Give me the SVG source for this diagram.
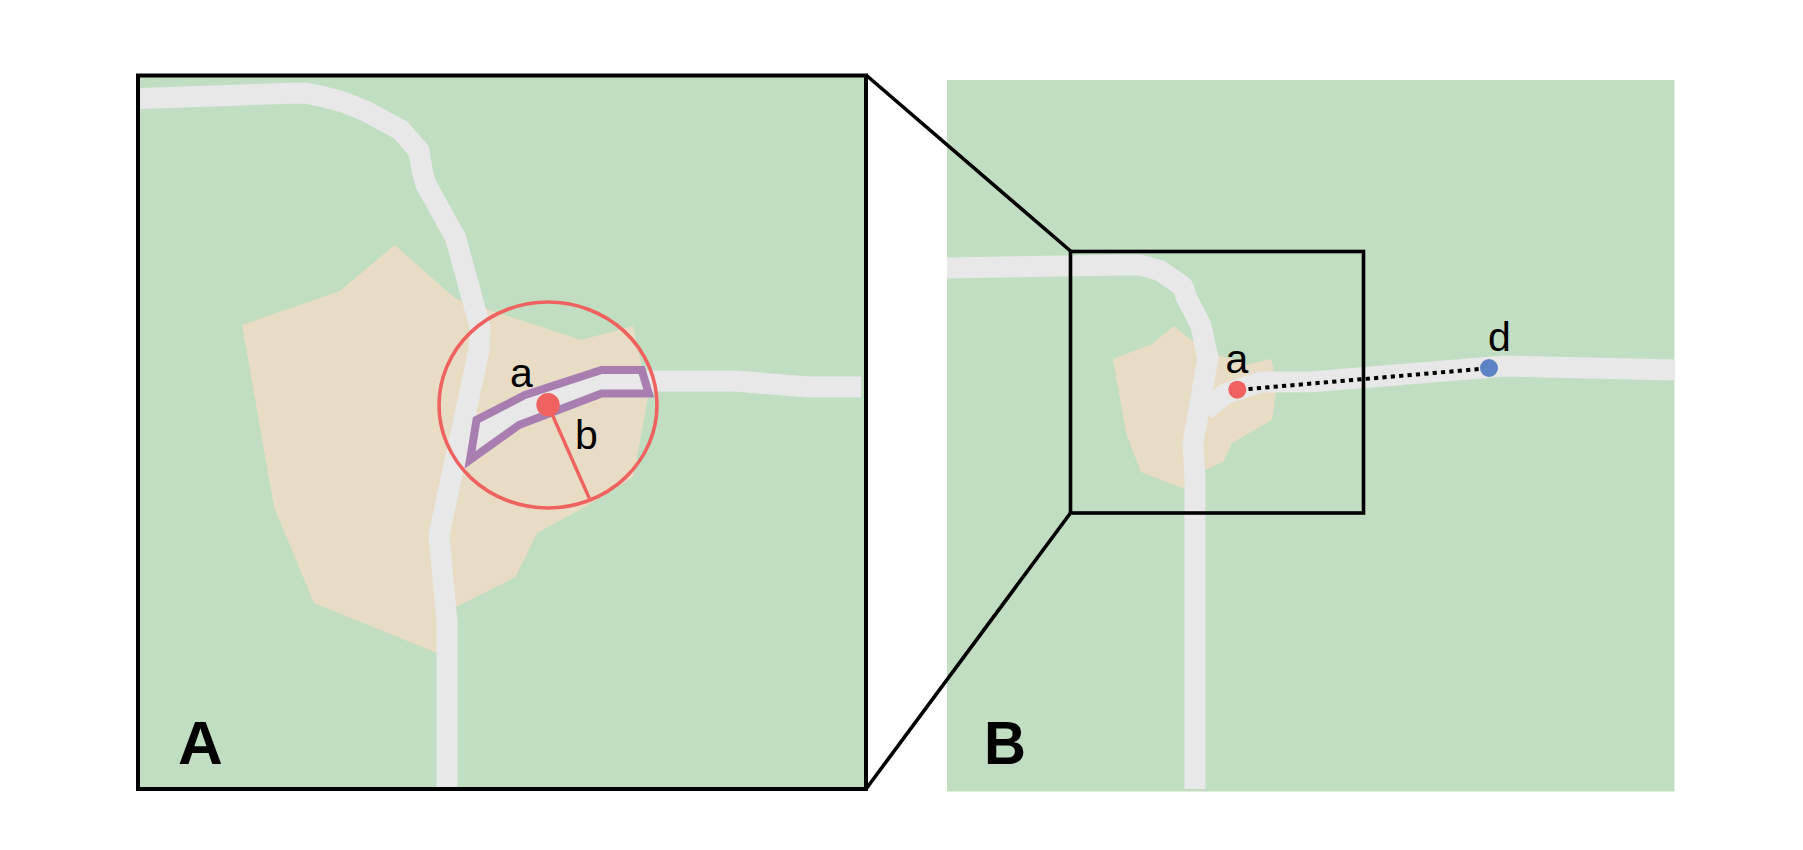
<svg xmlns="http://www.w3.org/2000/svg" width="1803" height="850" viewBox="0 0 1803 850">
<style>
.bg{fill:#c1dec2}
.tan{fill:#e8dcc5}
.road{fill:none;stroke:#e8e8e8;stroke-width:21;stroke-linejoin:round}
.frame{fill:none;stroke:#000;stroke-linejoin:miter}
.link{fill:none;stroke:#000;stroke-width:3.6}
.lab{font-family:"Liberation Sans",Arial,sans-serif;font-size:41px;fill:#000}
.pan{font-family:"Liberation Sans",Arial,sans-serif;font-size:62px;font-weight:bold;fill:#000}
.red{fill:#f0625f}
</style>
<rect width="1803" height="850" fill="#fff"/>
<g id="panel-A">
<rect class="bg" x="138" y="75.500" width="728" height="713.500"/>
<polygon class="tan" points="242,325 340,291 394.500,245 456,299 581,340 633,326 648,397 637,457 633,477 585,507 537,533 515.500,577 456,607 437,653 314,603 274,507"/>
<polyline class="road" points="140,98.500 290,93.300 306.700,93.300 323,96.700 343,102 365,110.700 400.700,130 419,151 422,170 425.700,184 455.700,238 480,327 479,350 439,535 447,622 447,787"/>
<polyline class="road" points="640,381 735,381 809,387 861,387"/>
<polygon points="641.700,370 648.800,393.500 601.500,393.500 519,425 470,460 476.500,420 525,395 601.500,370" fill="#e8e8e8" stroke="#a87eb1" stroke-width="8"/>
<ellipse cx="548" cy="405" rx="109" ry="103" fill="none" stroke="#f0625f" stroke-width="3.600"/>
<line x1="548" y1="405" x2="589.300" y2="498.300" stroke="#f0625f" stroke-width="3.400"/>
<circle class="red" cx="548" cy="404.700" r="11.700"/>
<text class="lab" x="510" y="386.700">a</text>
<text class="lab" x="575" y="449">b</text>
<text class="pan" x="178" y="764">A</text>
<rect class="frame" x="138" y="75.500" width="728" height="713.500" stroke-width="4"/>
</g>
<g id="panel-B">
<rect class="bg" x="947" y="80" width="727.500" height="711.500"/>
<polygon class="tan" points="1113,359 1152,344 1174,326 1195,343 1218,355 1248,364 1271,359 1277,383 1272,420 1232,443 1223,462 1205,470 1185,489 1141,472 1126,433"/>
<polyline class="road" points="947,268 1120,265 1140,265 1160,270.700 1183,286.700 1185.700,296 1200.700,325 1208,358 1193,443 1195,478 1195,789"/>
<polyline class="road" points="1205,410 1226,393.500 1261,382 1313,381.700 1359,378 1505,366 1674.500,370"/>
<rect class="frame" x="1070.500" y="251.500" width="293" height="261.500" stroke-width="3.600"/>
<text class="lab" x="1225.500" y="373">a</text>
<text class="lab" x="1488" y="350.700">d</text>
<text class="pan" x="984" y="764" textLength="42" lengthAdjust="spacingAndGlyphs">B</text>
</g>
<g id="connectors">
<line class="link" x1="866" y1="75" x2="1070.500" y2="251"/>
<line class="link" x1="866" y1="789" x2="1070.500" y2="513"/>
<line x1="1248.500" y1="389" x2="1480" y2="369" stroke="#000" stroke-width="4" stroke-dasharray="4.200 4.200"/>
</g>
<g id="node-a"><circle class="red" cx="1237.300" cy="389.700" r="9"/></g>
<g id="node-d"><circle cx="1489" cy="368" r="9" fill="#5b83c4"/></g>
</svg>
